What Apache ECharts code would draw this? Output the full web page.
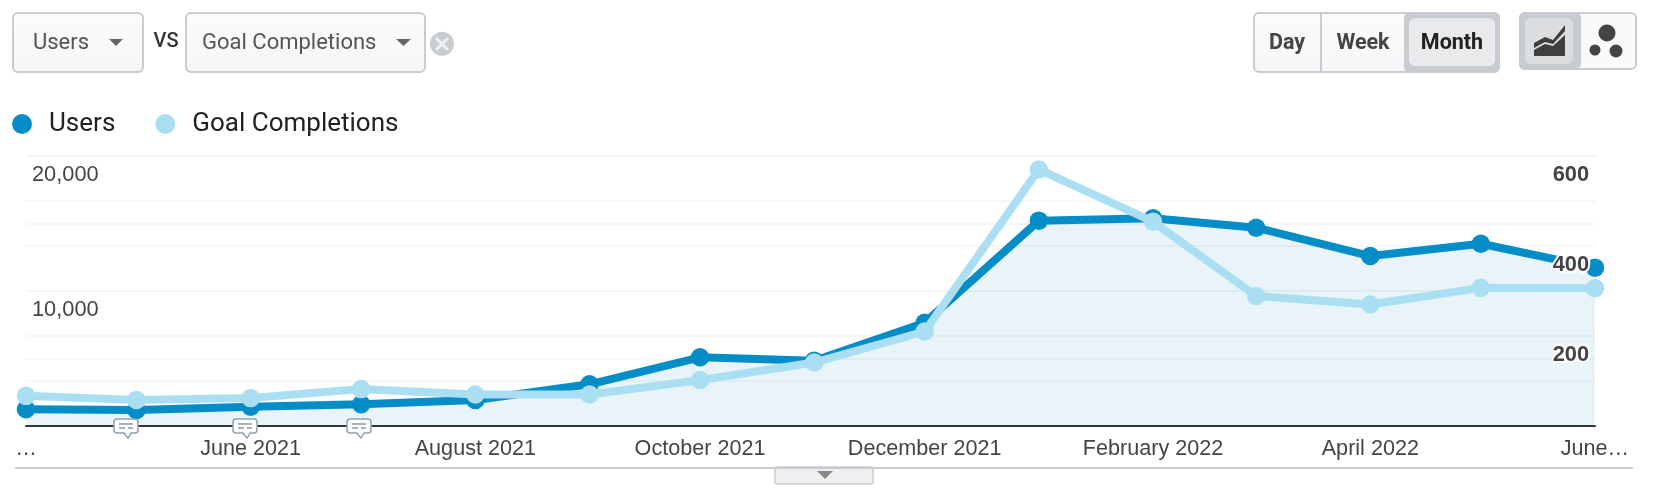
<!DOCTYPE html>
<html>
<head>
<meta charset="utf-8">
<style>html,body{margin:0;padding:0;background:#fff}#c{width:1664px;height:494px}</style>
<script src="https://cdn.jsdelivr.net/npm/echarts@6/dist/echarts.min.js"></script>
</head>
<body>
<div id="c"></div>
<script>
const months = ['2021-04-01','2021-05-01','2021-06-01','2021-07-01','2021-08-01','2021-09-01','2021-10-01','2021-11-01','2021-12-01','2022-01-01','2022-02-01','2022-03-01','2022-04-01','2022-05-01','2022-06-01'];
const users = [1240,1185,1430,1610,1925,3090,5090,4840,7650,15210,15385,14690,12590,13500,11730];
const goals = [67,58,62,82,70,70,102,141,210,570,454,289,270,307,306];
const tickDates = ['2021-04-01','2021-06-01','2021-08-01','2021-10-01','2021-12-01','2022-02-01','2022-04-01','2022-06-01'];
const tickLabels = ['…','June 2021','August 2021','October 2021','December 2021','February 2022','April 2022','June…'];
const leftTicks = [10000,20000];
const rightTicks = [200,400,600];

const UI = 'Roboto, sans-serif', AX = '"Liberation Sans", Arial, sans-serif';
const ts = s => Date.parse(s + 'T00:00:00Z');
const labelOf = new Map(tickDates.map((d,i)=>[ts(d),tickLabels[i]]));
const btnFill = {type:'linear',x:0,y:0,x2:0,y2:1,colorStops:[{offset:0,color:'#fbfbfb'},{offset:1,color:'#f5f6f7'}]};
const BORDER = '#c8cbcf';

function rect(x,y,w,h,fill,stroke,r,lw,z){return {type:'rect',shape:{x,y,width:w,height:h,r:r||0},style:{fill:fill,stroke:stroke||null,lineWidth:lw||0},z:z||20,silent:true};}
function txt(x,y,t,size,color,weight,align,font){return {type:'text',x,y,style:{text:t,fontSize:size,fill:color,fontWeight:weight||'normal',fontFamily:font||UI,align:align||'left',verticalAlign:'middle'},z:21,silent:true};}
function poly(points,fill,stroke,lw,z){return {type:'polygon',shape:{points},style:{fill:fill,stroke:stroke||null,lineWidth:lw||0},z:z||21,silent:true};}
function line(x1,y1,x2,y2,color,lw,z){return {type:'line',shape:{x1,y1,x2,y2},style:{stroke:color,lineWidth:lw||1},z:z||21,silent:true};}
function circ(cx,cy,r,fill){return {type:'circle',shape:{cx,cy,r},style:{fill},z:21,silent:true};}
function bubble(x){
  return [
    poly([[x+9,432],[x+14,438],[x+18,432]],'#fff','#8ea3ae',1.5,22),
    rect(x,419,24,14,'#fff','#8ea3ae',3,1.5,22),
    poly([[x+9.5,431],[x+14,436.5],[x+17.5,431]],'#fff',null,0,23),
    line(x+5,424,x+19,424,'#8d99a1',1.5,23),
    line(x+5,428,x+11,428,'#8d99a1',1.5,23),
    line(x+14,428,x+19,428,'#8d99a1',1.5,23)
  ];
}

const graphic = [
  rect(13,13,130,59,btnFill,BORDER,5,2),
  txt(33,43.5,'Users',22,'#555'),
  poly([[109,39],[123,39],[116,46]],'#666'),
  txt(166,41.5,'VS',20,'#333','500','center'),
  rect(186,13,239,59,btnFill,BORDER,5,2),
  txt(202,43.5,'Goal Completions',22,'#555'),
  poly([[396,39],[411,39],[403.5,46]],'#666'),
  circ(442,43.7,12,'#c9cccf'),
  line(436,38,448,50,'#eef0f1',3),
  line(448,38,436,50,'#eef0f1',3),

  rect(1254,13,245,59,btnFill,BORDER,5,2),
  line(1321,13,1321,72,BORDER,2),
  rect(1405,13,94,59,BORDER,BORDER,5,2),
  rect(1409,18,86,48,'#e9eaec',null,6),
  txt(1287,43.5,'Day',21.5,'#444','bold','center'),
  txt(1363,43.5,'Week',21.5,'#444','bold','center'),
  txt(1452,43.5,'Month',21.5,'#222','bold','center'),

  rect(1520,13,116,56,'#fafafa',BORDER,5,2),
  rect(1520,13,60,56,BORDER,BORDER,5,2),
  rect(1525,18,48,46,'#dcdddf',null,6),
  poly([[1534,56],[1534,50],[1545,44],[1553,46],[1565,35],[1565,56]],'#3f3f3f'),
  poly([[1534,43],[1545,37],[1553,40],[1565,25],[1565,31],[1553,44],[1545,42],[1534,48]],'#3f3f3f'),
  circ(1607,33,8.5,'#444'),
  circ(1595,50,5.5,'#444'),
  circ(1616,51,6.5,'#444'),

  line(15,468,1633,468,BORDER,2),
  rect(775,467,98,17,'#eeeff0',BORDER,3,1.5),
  poly([[817,471],[833,471],[825,479]],'#888'),
  ...bubble(114),...bubble(233),...bubble(347)
];

const chart = echarts.init(document.getElementById('c'), null, {renderer:'canvas'});
const gridY = {show:true,lineStyle:{color:'#f3f4f5',width:1.5}};
const blankAxis = {type:'value',min:0,axisLine:{show:false},axisTick:{show:false},axisLabel:{show:false},splitLine:{show:false}};
chart.setOption({
  animation:false,
  backgroundColor:'#fff',
  graphic:{elements:graphic},
  legend:{
    left:12,top:111,padding:0,itemWidth:20,itemHeight:20,itemGap:40,icon:'circle',
    textStyle:{fontFamily:UI,fontSize:26,color:'#222',padding:[0,0,0,12]},
    data:['Users','Goal Completions']
  },
  grid:{left:26,right:69,top:156,bottom:68},
  xAxis:{
    type:'value',min:ts(months[0]),max:ts(months[months.length-1]),
    axisLine:{show:true,onZero:false,lineStyle:{color:'#333',width:2}},
    axisTick:{show:false},splitLine:{show:false},
    axisLabel:{customValues:tickDates.map(ts),margin:12,fontFamily:AX,fontSize:21.6,color:'#444',
      hideOverlap:false,showMinLabel:true,showMaxLabel:true,
      formatter:v=>labelOf.get(+v)||''}
  },
  yAxis:[
    {...blankAxis,max:20000,interval:5000,position:'left',z:10,
      axisLabel:{show:true,inside:true,margin:6,verticalAlign:'top',padding:[8,0,0,0],customValues:leftTicks,
        fontFamily:AX,fontSize:21.8,color:'#444',formatter:v=>Number(v).toLocaleString('en-US')}},
    {...blankAxis,max:600,interval:100,position:'right',z:10,
      axisLabel:{show:true,inside:true,margin:6,verticalAlign:'top',padding:[8,0,0,0],customValues:rightTicks,
        fontFamily:AX,fontSize:21.8,fontWeight:'bold',color:'#444',textBorderColor:'#fff',textBorderWidth:4}},
    {...blankAxis,max:20000,interval:5000,position:'left',splitLine:gridY},
    {...blankAxis,max:600,interval:100,position:'right',splitLine:gridY}
  ],
  series:[
    {name:'Users',type:'line',yAxisIndex:0,data:months.map((m,i)=>[ts(m),users[i]]),
      showSymbol:true,symbol:'circle',symbolSize:18.5,clip:false,
      itemStyle:{color:'#058dc7'},lineStyle:{color:'#058dc7',width:8},
      areaStyle:{color:'#0b80c0',opacity:0.09},z:3},
    {name:'Goal Completions',type:'line',yAxisIndex:1,data:months.map((m,i)=>[ts(m),goals[i]]),
      showSymbol:true,symbol:'circle',symbolSize:18.5,clip:false,
      itemStyle:{color:'#aadff3'},lineStyle:{color:'#aadff3',width:8},z:4}
  ]
});
</script>
</body>
</html>
